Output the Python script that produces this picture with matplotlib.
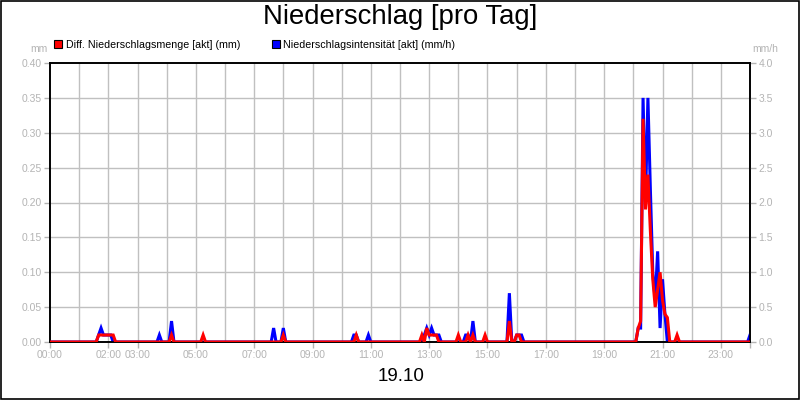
import numpy as np
import matplotlib
matplotlib.use('Agg')
import matplotlib.pyplot as plt
from matplotlib.lines import Line2D

plt.rcParams['font.family'] = ['Liberation Sans', 'DejaVu Sans']

# Werte (5-Minuten-Raster, nur Werte ungleich null)
menge_zeit = ['01:40', '01:45', '01:50', '01:55', '02:00', '02:05', '02:10',
              '04:10', '05:15', '08:00', '10:30',
              '12:45', '12:55', '13:00', '13:05', '13:10', '13:15',
              '14:00', '14:20', '14:30', '14:55', '15:45', '16:00', '16:05',
              '20:10', '20:15', '20:20', '20:25', '20:30', '20:35', '20:40',
              '20:45', '20:50', '20:55', '21:00', '21:05', '21:10', '21:30']
menge_mm = [0.01, 0.01, 0.01, 0.01, 0.01, 0.01, 0.01,
            0.01, 0.01, 0.01, 0.01,
            0.01, 0.02, 0.01, 0.01, 0.01, 0.01,
            0.01, 0.01, 0.01, 0.01, 0.03, 0.01, 0.01,
            0.02, 0.03, 0.32, 0.19, 0.24, 0.16, 0.09,
            0.05, 0.075, 0.10, 0.06, 0.04, 0.035, 0.01]

int_zeit = ['01:40', '01:45', '01:50', '01:55', '02:00', '02:05',
            '03:45', '04:10', '07:40', '08:00', '10:25', '10:30', '10:55',
            '12:50', '12:55', '13:00', '13:05', '13:10', '13:15', '13:20',
            '14:15', '14:20', '14:30', '15:45', '16:00', '16:05', '16:10',
            '20:10', '20:15', '20:20', '20:25', '20:30', '20:35', '20:40',
            '20:45', '20:50', '20:55', '21:00', '21:05', '24:00']
int_mmh = [0.1, 0.2, 0.1, 0.1, 0.1, 0.1,
           0.1, 0.3, 0.2, 0.2, 0.1, 0.1, 0.1,
           0.1, 0.2, 0.1, 0.2, 0.1, 0.1, 0.1,
           0.1, 0.1, 0.3, 0.7, 0.1, 0.1, 0.1,
           0.2, 0.2, 3.5, 2.0, 3.5, 2.2, 1.0,
           0.6, 1.3, 0.2, 0.9, 0.4, 0.1]

x_labels = ['00:00', '02:00', '03:00', '05:00', '07:00', '09:00', '11:00',
            '13:00', '15:00', '17:00', '19:00', '21:00', '23:00']


def std(s):
    h, m = s.split(':')
    return int(h) + int(m) / 60.0


def reihe(zeiten, werte):
    # volle Tagesreihe im 5-min-Raster, fehlende Werte = 0
    t = np.arange(0, 24 * 12 + 1) / 12.0
    v = np.zeros(len(t))
    for z, w in zip(zeiten, werte):
        v[int(round(std(z) * 12))] = w
    return t, v


grau = '#b4b4b4'
gitter = '#c0c0c0'

fig = plt.figure(figsize=(8, 4), dpi=100)
ax = fig.add_axes([0.0625, 0.145, 0.875, 0.6975])
ax2 = ax.twinx()

t_i, v_i = reihe(int_zeit, int_mmh)
t_m, v_m = reihe(menge_zeit, menge_mm)
ax2.plot(t_i, v_i, color='#0000ff', lw=2.2, solid_joinstyle='miter')
ax2.set_zorder(ax.get_zorder() + 1)
ax.patch.set_visible(True)
ax2.patch.set_visible(False)
# rote Linie oben
ax3 = ax.twinx()
ax3.set_zorder(ax2.get_zorder() + 1)
ax3.patch.set_visible(False)
ax3.plot(t_m, v_m, color='#ff0000', lw=2.2, solid_joinstyle='miter')
ax3.set_ylim(0, 0.4)
ax3.axis('off')

ax.set_xlim(0, 24)
ax.set_ylim(0, 0.4)
ax2.set_ylim(0, 4.0)

ax.set_xticks([std(s) for s in x_labels] + [24])
ax.set_xticklabels(x_labels + [''])
ax.grid(False)
for h in range(1, 24):
    ax.axvline(h, color=gitter, lw=1, zorder=0)
for y in np.arange(0.05, 0.40, 0.05):
    ax.axhline(y, color=gitter, lw=1, zorder=0)

ax.set_yticks(np.arange(0, 0.401, 0.05))
ax.set_yticklabels(['%.2f' % y for y in np.arange(0, 0.401, 0.05)])
ax2.set_yticks(np.arange(0, 4.01, 0.5))
ax2.set_yticklabels(['%.1f' % y for y in np.arange(0, 4.01, 0.5)])

for a in (ax, ax2):
    a.tick_params(axis='both', which='major', colors=grau, labelcolor=grau,
                  labelsize=7.5, length=4, width=1, pad=2)
    for sp in a.spines.values():
        sp.set_color('black')
        sp.set_linewidth(1.2)

fig.text(0.5, 0.94, 'Niederschlag [pro Tag]', ha='center', va='baseline', fontsize=19.8)
fig.text(0.501, 0.058, '19.10', ha='center', va='center', fontsize=13.5)
fig.text(0.06, 0.878, 'mm', ha='right', va='center', fontsize=7.5, color=grau)
fig.text(0.956, 0.878, 'mm/h', ha='center', va='center', fontsize=7.5, color=grau)

handles = [Line2D([], [], marker='s', ls='', color='#ff0000', markeredgecolor='black',
                  markersize=6, markeredgewidth=0.8),
           Line2D([], [], marker='s', ls='', color='#0000ff', markeredgecolor='black',
                  markersize=6, markeredgewidth=0.8)]
fig.legend(handles, ['Diff. Niederschlagsmenge [akt] (mm)', 'Niederschlagsintensität [akt] (mm/h)'],
           loc='center left', bbox_to_anchor=(0.068, 0.888), ncol=2, frameon=False,
           fontsize=7.7, handlelength=0.7, handletextpad=0.35, columnspacing=3.0,
           borderpad=0, borderaxespad=0)

# Rahmen um die ganze Grafik
fig.patches.append(plt.Rectangle((0.001, 0.002), 0.998, 0.996, transform=fig.transFigure,
                                 fill=False, edgecolor='black', lw=1.2))

fig.savefig('out.png', dpi=100)
